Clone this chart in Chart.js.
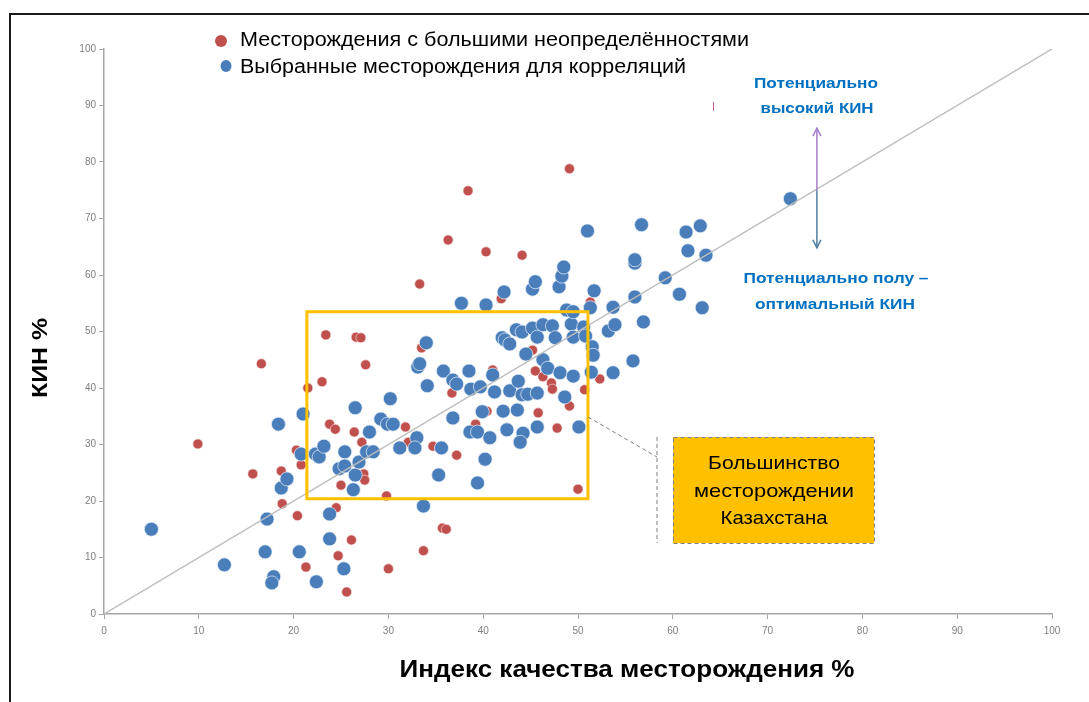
<!DOCTYPE html>
<html><head><meta charset="utf-8">
<script src="https://cdn.jsdelivr.net/npm/chart.js@4/dist/chart.umd.min.js"></script>
<style>html,body{margin:0;padding:0;background:#fff;}canvas{display:block;}</style>
</head><body>
<canvas id="c" width="1089" height="702"></canvas>
<script>
const legendLabels = ['Месторождения с большими неопределённостями', 'Выбранные месторождения для корреляций'];
const xTitle = 'Индекс качества месторождения %';
const yTitle = 'КИН %';
const noteHigh = ['Потенциально', 'высокий КИН'];
const noteLow = ['Потенциально полу –', 'оптимальный КИН'];
const boxNote = ['Большинство', 'месторождении', 'Казахстана'];

const blueX = [5.0,12.7,17.0,20.6,17.9,17.7,22.4,25.3,23.8,23.8,17.2,18.7,19.3,18.4,21.0,20.8,22.3,22.7,23.2,26.5,25.4,24.8,25.4,26.5,26.3,26.9,28.0,27.7,28.4,29.2,29.9,30.5,30.2,31.2,33.0,32.8,35.6,35.3,33.7,40.2,39.4,34.0,33.1,33.3,35.8,38.5,36.8,37.2,34.1,41.0,38.7,39.7,41.2,42.8,43.7,44.1,44.7,45.7,39.9,42.1,43.6,36.8,38.6,39.4,40.7,42.5,44.2,43.9,45.7,42.0,42.3,42.8,43.5,44.1,45.2,45.7,46.3,47.3,47.6,44.5,46.3,46.8,48.1,49.5,48.6,50.1,49.3,49.5,50.6,50.8,51.5,51.6,51.4,48.8,49.5,51.3,37.7,40.3,42.2,45.2,45.5,48.0,48.3,48.5,51.7,51.0,56.7,56.0,56.0,56.0,53.7,53.2,53.9,56.9,55.8,53.7,59.2,60.7,63.1,61.4,62.9,61.6,63.5,72.4];
const blueY = [15.0,8.7,11.0,11.0,6.6,5.5,5.7,8.0,13.3,17.7,16.8,22.3,23.9,33.6,35.4,28.3,28.3,27.8,29.7,36.5,28.7,25.7,26.2,24.6,22.0,26.9,32.2,28.7,28.7,34.5,33.6,33.6,38.1,29.4,31.2,29.4,29.4,24.6,19.1,27.4,23.2,48.0,43.7,44.3,43.0,43.0,41.4,40.7,40.4,42.3,39.8,40.2,39.3,39.5,41.2,38.8,38.9,39.1,35.8,35.9,36.1,34.7,32.2,32.2,31.2,32.6,32.0,30.4,33.1,48.9,48.5,47.8,50.3,49.9,50.6,49.0,51.2,51.0,48.9,46.0,45.0,43.5,42.7,42.1,38.4,33.1,51.3,49.0,50.8,49.2,47.3,45.8,42.8,53.8,53.5,54.2,55.0,54.7,57.0,57.5,58.8,57.9,59.8,61.4,57.2,67.8,68.9,62.1,62.7,56.1,54.3,50.1,51.2,51.7,44.8,42.7,59.5,56.6,54.2,67.6,68.7,64.3,63.5,73.5];

const redX = [9.9,15.7,16.6,18.7,18.8,20.3,20.4,20.8,21.5,23.0,23.4,26.6,27.1,27.6,23.8,24.4,26.4,27.2,27.4,27.5,25.0,24.5,26.1,24.7,21.3,25.6,29.8,30.0,31.8,32.1,34.7,37.2,36.7,39.2,33.5,33.3,36.3,40.3,44.1,38.4,49.1,41.9,51.3,45.2,41.0,45.5,46.3,47.2,47.3,52.3,50.7,49.1,45.8,47.8,50.0,35.7,36.1,33.7,40.4];
const redY = [30.1,24.8,44.3,25.3,19.5,29.0,17.4,26.4,40.0,41.1,49.4,49.0,48.9,44.1,33.6,32.7,32.2,30.4,24.8,23.7,22.8,18.8,13.1,10.3,8.3,3.9,20.9,8.0,33.1,30.4,29.7,28.1,39.1,33.6,47.1,58.4,66.2,64.1,63.5,74.9,78.8,55.8,55.2,46.7,43.2,43.0,42.0,40.9,39.8,41.6,39.7,36.8,35.6,32.9,22.1,15.2,15.0,11.2,35.9];

const diagX = [0, 100];
const diagY = [0, 100];
const boxRange = {x0: 21.4, x1: 51.05, y0: 20.4, y1: 53.5};
const arrowVals = {x: 75.2, top: 86.0, mid: 75.0, bottom: 64.8};

const BLUE = '#4a7ebb', RED = '#c0504d', ORANGE = '#ffc000', NOTE_BLUE = '#0070c0';

const toPts = (xs, ys) => xs.map((x, i) => ({x: x, y: ys[i]}));

function fitText(ctx, text, cx, cy, width, font, color) {
  ctx.save();
  ctx.font = font;
  ctx.fillStyle = color;
  ctx.textAlign = 'center';
  ctx.textBaseline = 'middle';
  const w = ctx.measureText(text).width;
  ctx.translate(cx, cy);
  ctx.scale(width / w, 1);
  ctx.fillText(text, 0, 0);
  ctx.restore();
}

const decor = {
  id: 'decor',
  beforeDraw(chart) {
    const ctx = chart.ctx;
    ctx.save();
    ctx.fillStyle = '#fff';
    ctx.fillRect(0, 0, chart.width, chart.height);
    ctx.restore();
  },
  afterDatasetsDraw(chart) {
    const ctx = chart.ctx, xs = chart.scales.x, ys = chart.scales.y;
    ctx.save();
    // frame
    ctx.strokeStyle = '#1a1a1a'; ctx.lineWidth = 2;
    ctx.beginPath(); ctx.moveTo(10, 702); ctx.lineTo(10, 14); ctx.lineTo(1089, 14); ctx.stroke();

    // orange selection box
    const bx0 = xs.getPixelForValue(boxRange.x0), bx1 = xs.getPixelForValue(boxRange.x1);
    const by0 = ys.getPixelForValue(boxRange.y1), by1 = ys.getPixelForValue(boxRange.y0);
    ctx.strokeStyle = ORANGE; ctx.lineWidth = 3;
    ctx.strokeRect(bx0, by0, bx1 - bx0, by1 - by0);

    // leader dashed line + annotation box
    ctx.strokeStyle = '#7f7f7f'; ctx.lineWidth = 1; ctx.setLineDash([4, 3]);
    ctx.beginPath(); ctx.moveTo(bx1, 417); ctx.lineTo(657, 457); ctx.stroke();
    ctx.beginPath(); ctx.moveTo(657, 437); ctx.lineTo(657, 543); ctx.stroke();
    ctx.fillStyle = ORANGE; ctx.fillRect(673, 437, 201, 106);
    ctx.strokeRect(673.5, 437.5, 201, 106);
    ctx.setLineDash([]);
    fitText(ctx, boxNote[0], 774, 464, 132, '19px "Liberation Sans", Arial, sans-serif', '#000');
    fitText(ctx, boxNote[1], 774, 492, 160, '19px "Liberation Sans", Arial, sans-serif', '#000');
    fitText(ctx, boxNote[2], 774, 519, 107, '19px "Liberation Sans", Arial, sans-serif', '#000');

    // arrow
    const ax = xs.getPixelForValue(arrowVals.x);
    const at = ys.getPixelForValue(arrowVals.top), am = ys.getPixelForValue(arrowVals.mid), ab = ys.getPixelForValue(arrowVals.bottom);
    ctx.lineWidth = 1.5;
    ctx.strokeStyle = '#a67fcc';
    ctx.beginPath(); ctx.moveTo(ax, am); ctx.lineTo(ax, at); ctx.stroke();
    ctx.beginPath(); ctx.moveTo(ax - 4, at + 8); ctx.lineTo(ax, at); ctx.lineTo(ax + 4, at + 8); ctx.stroke();
    ctx.strokeStyle = '#4f7f9f';
    ctx.beginPath(); ctx.moveTo(ax, am); ctx.lineTo(ax, ab); ctx.stroke();
    ctx.beginPath(); ctx.moveTo(ax - 4, ab - 8); ctx.lineTo(ax, ab); ctx.lineTo(ax + 4, ab - 8); ctx.stroke();
    // small magenta mark
    ctx.strokeStyle = '#c060a8'; ctx.lineWidth = 1;
    ctx.beginPath(); ctx.moveTo(713.5, 102); ctx.lineTo(713.5, 111); ctx.stroke();

    const nf = 'bold 15px "Liberation Sans", Arial, sans-serif';
    fitText(ctx, noteHigh[0], 816, 84, 124, nf, NOTE_BLUE);
    fitText(ctx, noteHigh[1], 817, 109, 113, nf, NOTE_BLUE);
    fitText(ctx, noteLow[0], 836, 279, 185, nf, NOTE_BLUE);
    fitText(ctx, noteLow[1], 835, 305, 160, nf, NOTE_BLUE);

    // legend
    ctx.fillStyle = RED; ctx.beginPath(); ctx.arc(221, 41, 6, 0, Math.PI * 2); ctx.fill();
    ctx.fillStyle = BLUE; ctx.beginPath(); ctx.ellipse(226, 66, 5.5, 6, 0, 0, Math.PI * 2); ctx.fill();
    const lf = '20px "Liberation Sans", Arial, sans-serif';
    fitText(ctx, legendLabels[0], (240 + 749) / 2, 40, 509, lf, '#000');
    fitText(ctx, legendLabels[1], (240 + 686) / 2, 67, 446, lf, '#000');

    // axis titles
    fitText(ctx, xTitle, 627, 670, 455, 'bold 24px "Liberation Sans", Arial, sans-serif', '#000');
    ctx.save();
    ctx.translate(41, 358);
    ctx.rotate(-Math.PI / 2);
    fitText(ctx, yTitle, 0, 0, 80, 'bold 22px "Liberation Sans", Arial, sans-serif', '#000');
    ctx.restore();
    ctx.restore();
  }
};

const tickFont = {size: 10, family: '"Liberation Sans", Arial, sans-serif'};

new Chart(document.getElementById('c'), {
  type: 'scatter',
  data: {
    datasets: [
      {label: 'diag', type: 'line', data: toPts(diagX, diagY), borderColor: '#bdbdbd', borderWidth: 1.5, pointRadius: 0, fill: false, order: 0},
      {label: legendLabels[1], data: toPts(blueX, blueY), backgroundColor: BLUE, borderColor: 'rgba(235,242,250,0.7)', borderWidth: 1, pointRadius: 7, order: 1},
      {label: legendLabels[0], data: toPts(redX, redY), backgroundColor: RED, borderColor: 'rgba(250,235,235,0.6)', borderWidth: 1, pointRadius: 5, order: 2}
    ]
  },
  options: {
    responsive: false,
    animation: false,
    layout: {padding: {left: 0, top: 49, right: 37, bottom: 0}},
    plugins: {legend: {display: false}, tooltip: {enabled: false}},
    scales: {
      x: {
        type: 'linear', min: 0, max: 100,
        ticks: {stepSize: 10, color: '#7f7f7f', font: tickFont, padding: 6, maxRotation: 0},
        grid: {drawOnChartArea: false, drawTicks: true, tickLength: 5, color: '#a6a6a6'},
        border: {color: '#a6a6a6', width: 1.5},
        afterFit(s) { s.height = 88; }
      },
      y: {
        type: 'linear', min: 0, max: 100,
        ticks: {stepSize: 10, color: '#7f7f7f', font: tickFont, padding: 3},
        grid: {drawOnChartArea: false, drawTicks: true, tickLength: 5, color: '#a6a6a6'},
        border: {color: '#a6a6a6', width: 1.5},
        afterFit(s) { s.width = 104; }
      }
    }
  },
  plugins: [decor]
});
</script>
</body></html>
